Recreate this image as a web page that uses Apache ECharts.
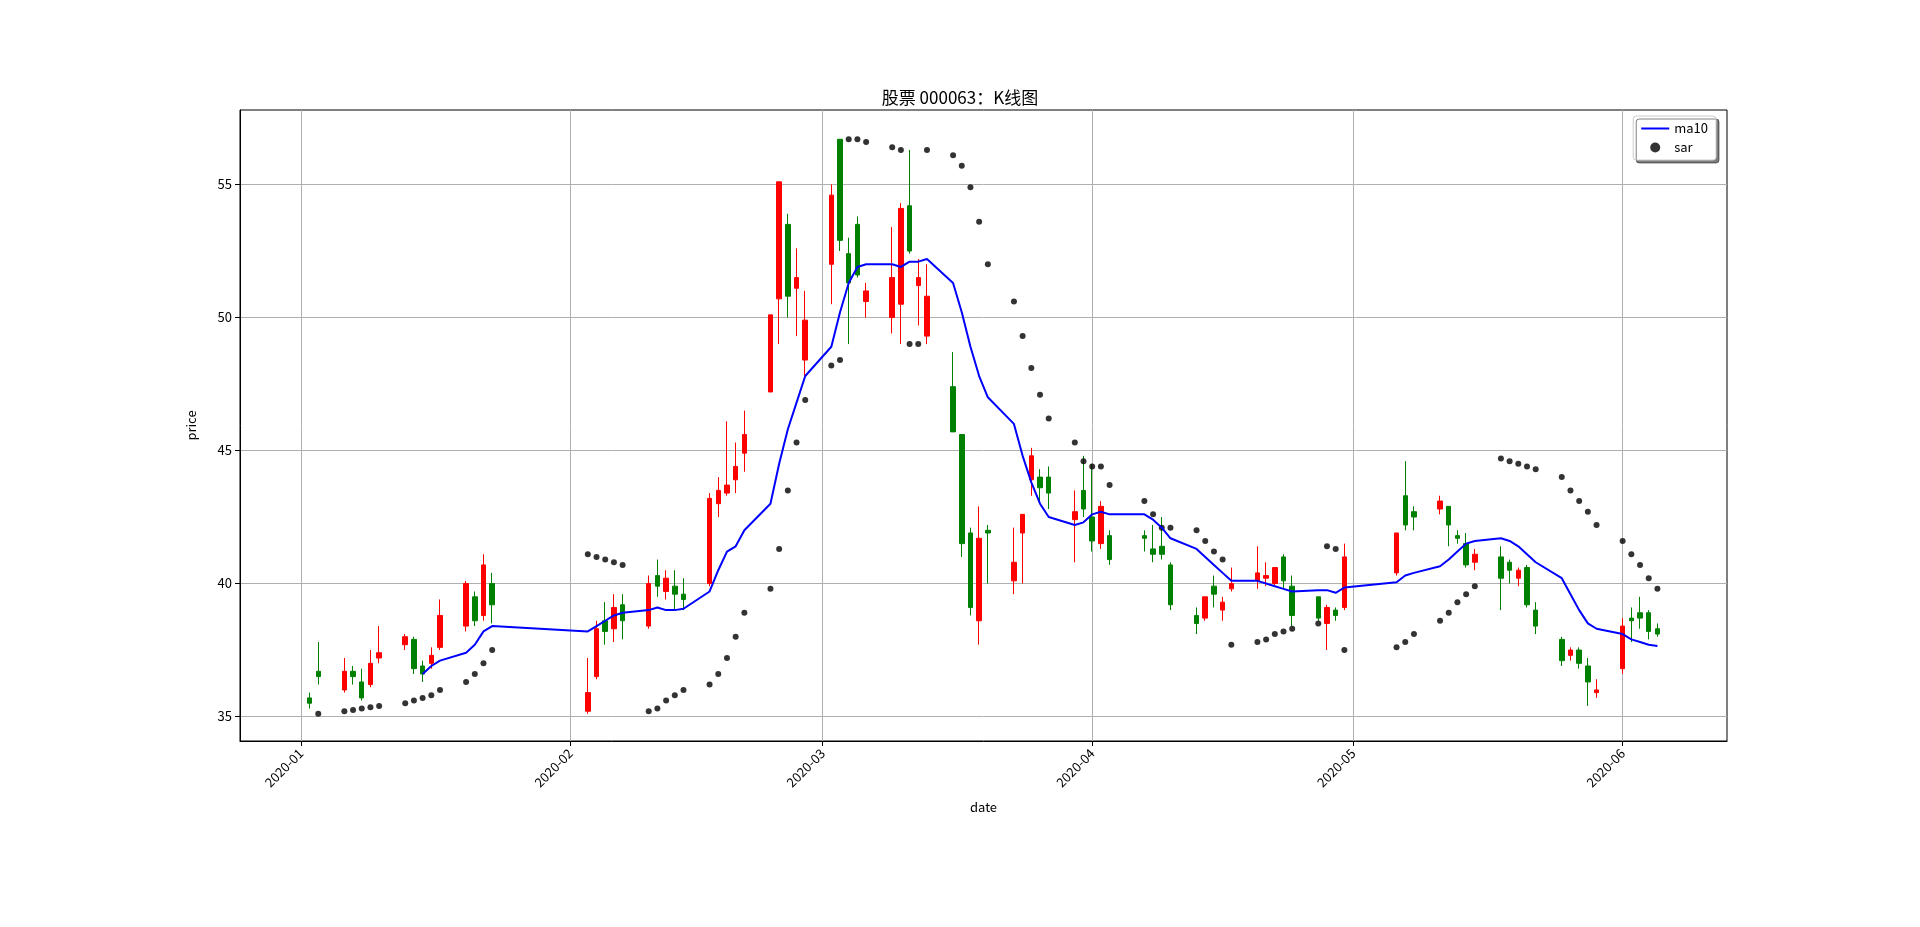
<!DOCTYPE html>
<html><head><meta charset="utf-8">
<script src="https://cdn.jsdelivr.net/npm/echarts@6/dist/echarts.min.js"></script>
<style>html,body{margin:0;padding:0;background:#fff}#c{width:1920px;height:927px}</style>
</head><body><div id="c"></div>
<script>
const dates = ["2020-01-02","2020-01-03","2020-01-06","2020-01-07","2020-01-08","2020-01-09","2020-01-10","2020-01-13","2020-01-14","2020-01-15","2020-01-16","2020-01-17","2020-01-20","2020-01-21","2020-01-22","2020-01-23",
"2020-02-03","2020-02-04","2020-02-05","2020-02-06","2020-02-07","2020-02-10","2020-02-11","2020-02-12","2020-02-13","2020-02-14","2020-02-17","2020-02-18","2020-02-19","2020-02-20","2020-02-21","2020-02-24","2020-02-25","2020-02-26","2020-02-27","2020-02-28",
"2020-03-02","2020-03-03","2020-03-04","2020-03-05","2020-03-06","2020-03-09","2020-03-10","2020-03-11","2020-03-12","2020-03-13","2020-03-16","2020-03-17","2020-03-18","2020-03-19","2020-03-20","2020-03-23","2020-03-24","2020-03-25","2020-03-26","2020-03-27","2020-03-30","2020-03-31",
"2020-04-01","2020-04-02","2020-04-03","2020-04-07","2020-04-08","2020-04-09","2020-04-10","2020-04-13","2020-04-14","2020-04-15","2020-04-16","2020-04-17","2020-04-20","2020-04-21","2020-04-22","2020-04-23","2020-04-24","2020-04-27","2020-04-28","2020-04-29","2020-04-30",
"2020-05-06","2020-05-07","2020-05-08","2020-05-11","2020-05-12","2020-05-13","2020-05-14","2020-05-15","2020-05-18","2020-05-19","2020-05-20","2020-05-21","2020-05-22","2020-05-25","2020-05-26","2020-05-27","2020-05-28","2020-05-29",
"2020-06-01","2020-06-02","2020-06-03","2020-06-04","2020-06-05"];
const open  = [35.7,36.7,36.0,36.7,36.3,36.2,37.2,37.7,37.9,36.9,37.0,37.6,38.4,39.5,38.8,40.0,
35.2,36.5,38.6,38.3,39.2,38.4,40.3,39.7,39.9,39.6,40.0,43.0,43.4,43.9,44.9,47.2,50.7,53.5,51.1,48.4,
52.0,56.7,52.4,53.5,50.6,50.0,50.5,54.2,51.2,49.3,47.4,45.6,41.9,38.6,42.0,40.1,41.9,43.9,44.0,44.0,42.4,43.5,
42.5,41.5,41.8,41.8,41.3,41.4,40.7,38.8,38.7,39.9,39.0,39.8,40.1,40.2,40.0,41.0,39.9,39.5,38.5,39.0,39.1,
40.4,43.3,42.7,42.8,42.9,41.8,41.5,40.8,41.0,40.8,40.2,40.6,39.0,37.9,37.3,37.5,36.9,35.9,
36.8,38.7,38.9,38.9,38.3];
const close = [35.5,36.5,36.7,36.5,35.7,37.0,37.4,38.0,36.8,36.6,37.3,38.8,40.0,38.6,40.7,39.2,
35.9,38.3,38.2,39.1,38.6,40.0,39.9,40.2,39.6,39.4,43.2,43.5,43.7,44.4,45.6,50.1,55.1,50.8,51.5,49.9,
54.6,52.9,51.3,51.6,51.0,51.5,54.1,52.5,51.5,50.8,45.7,41.5,39.1,41.7,41.9,40.8,42.6,44.8,43.6,43.4,42.7,42.8,
41.6,42.9,40.9,41.7,41.1,41.1,39.2,38.5,39.5,39.6,39.3,40.0,40.4,40.3,40.6,40.1,38.8,38.7,39.1,38.8,41.0,
41.9,42.2,42.5,43.1,42.2,41.7,40.7,41.1,40.2,40.5,40.5,39.2,38.4,37.1,37.5,37.0,36.3,36.0,
38.4,38.6,38.7,38.2,38.1];
const low   = [35.3,36.2,35.9,36.2,35.6,36.1,37.0,37.5,36.6,36.3,36.8,37.5,38.2,38.4,38.6,38.5,
35.1,36.4,37.7,37.8,37.9,38.3,39.5,39.4,39.0,39.0,39.9,42.5,43.3,43.4,44.2,47.2,49.0,50.0,49.3,47.8,
50.5,52.5,49.0,51.5,50.0,49.4,49.0,52.4,49.7,49.0,45.7,41.0,38.8,37.7,40.0,39.6,40.0,43.3,43.0,42.8,40.8,42.5,
41.2,41.3,40.7,41.2,40.8,40.9,39.0,38.1,38.6,39.1,38.6,39.7,39.8,39.9,39.9,39.8,38.4,38.6,37.5,38.6,39.0,
40.3,42.0,42.0,42.6,41.4,41.5,40.6,40.5,39.0,40.0,39.9,39.1,38.1,36.9,37.1,36.8,35.4,35.7,
36.6,37.8,38.3,37.9,38.0];
const high  = [35.9,37.8,37.2,36.9,36.8,37.5,38.4,38.1,38.0,37.1,37.6,39.4,40.1,39.7,41.1,40.4,
37.2,38.6,39.3,39.6,39.6,40.3,40.9,40.5,40.5,40.2,43.4,44.0,46.1,45.3,46.5,50.1,55.1,53.9,52.6,51.0,
55.0,56.7,53.0,53.8,51.3,53.4,54.3,56.3,52.2,52.0,48.7,45.6,42.1,42.9,42.2,42.1,42.6,45.1,44.3,44.4,43.5,44.8,
44.5,43.1,42.0,42.0,42.2,42.5,40.8,39.1,39.5,40.3,39.5,40.6,41.4,40.8,40.6,41.1,40.3,39.5,39.2,39.1,41.5,
41.9,44.6,42.9,43.3,42.9,42.0,41.9,41.3,41.4,40.9,40.6,40.7,39.3,38.0,37.6,37.6,37.2,36.4,
38.7,39.1,39.5,39.0,38.5];
const ma10 = [null,null,null,null,null,null,null,null,null,36.6,36.9,37.1,37.4,37.7,38.2,38.4,
38.2,38.4,38.6,38.8,38.9,39.0,39.1,39.0,39.0,39.05,39.7,40.5,41.2,41.4,42.0,43.0,44.5,45.8,46.8,47.8,
48.9,50.2,51.3,51.9,52.0,52.0,51.9,52.1,52.1,52.2,51.3,50.2,48.9,47.8,47.0,46.0,44.8,43.8,43.0,42.5,42.2,42.3,
42.6,42.7,42.6,42.6,42.4,42.1,41.7,41.3,41.0,40.7,40.4,40.1,40.1,40.0,39.9,39.8,39.7,39.75,39.75,39.65,39.85,
40.05,40.3,40.4,40.65,40.9,41.2,41.5,41.6,41.7,41.6,41.4,41.1,40.8,40.2,39.6,39.0,38.5,38.3,
38.1,37.9,37.8,37.7,37.65];
const sar = [null,35.1,35.2,35.25,35.3,35.35,35.4,35.5,35.6,35.7,35.8,36.0,36.3,36.6,37.0,37.5,
41.1,41.0,40.9,40.8,40.7,35.2,35.3,35.6,35.8,36.0,36.2,36.6,37.2,38.0,38.9,39.8,41.3,43.5,45.3,46.9,
48.2,48.4,56.7,56.7,56.6,56.4,56.3,49.0,49.0,56.3,56.1,55.7,54.9,53.6,52.0,50.6,49.3,48.1,47.1,46.2,45.3,44.6,
44.4,44.4,43.7,43.1,42.6,42.1,42.1,42.0,41.6,41.2,40.9,37.7,37.8,37.9,38.1,38.2,38.3,38.5,41.4,41.3,37.5,
37.6,37.8,38.1,38.6,38.9,39.3,39.6,39.9,44.7,44.6,44.5,44.4,44.3,44.0,43.5,43.1,42.7,42.2,
41.6,41.1,40.7,40.2,39.8];
const monthTicks = ["2020-01-01","2020-02-01","2020-03-01","2020-04-01","2020-05-01","2020-06-01"];
const yTicks = [35,40,45,50,55];

const ts = s => new Date(s + "T00:00:00Z").getTime();
const kData = dates.map((d,i)=>[ts(d),open[i],close[i],low[i],high[i]]);
const maData = dates.map((d,i)=>[ts(d),ma10[i]]);
const sarData = dates.map((d,i)=>[ts(d),sar[i]]).filter(p=>p[1]!==null);
const F = "'Noto Sans CJK SC', 'DejaVu Sans', sans-serif";
const tickTs = monthTicks.map(ts);

const chart = echarts.init(document.getElementById('c'));
chart.setOption({
  animation:false,
  textStyle:{fontFamily:F},
  title:{text:'股票 000063：K线图',left:'center',top:84,textStyle:{fontSize:17,fontWeight:'normal',color:'#000',fontFamily:F}},
  legend:{right:204,top:116,orient:'vertical',itemGap:6,backgroundColor:'#fff',borderColor:'#ccc',borderWidth:1,borderRadius:3,
    padding:[6,8,6,8],shadowColor:'rgba(0,0,0,0.5)',shadowOffsetX:3,shadowOffsetY:3,shadowBlur:0,
    textStyle:{fontSize:13,color:'#000',fontFamily:F},itemWidth:28,itemHeight:10,
    data:[{name:'ma10',icon:'path://M0,5L28,5L28,7L0,7Z'},{name:'sar',icon:'circle'}]},
  grid:{left:240,right:193,top:110,bottom:186,show:true,borderColor:'#000',borderWidth:1},
  xAxis:{type:'value',min:ts("2019-12-25"),max:ts("2020-06-13"),scale:true,
    name:'date',nameLocation:'middle',nameGap:60,nameTextStyle:{fontSize:13,color:'#000'},
    axisLine:{onZero:false,lineStyle:{color:'#000'}},
    axisTick:{show:true,customValues:tickTs,lineStyle:{color:'#000'},length:5},
    axisLabel:{customValues:tickTs,rotate:45,fontSize:13,color:'#000',margin:10,
      formatter:v=>{const d=new Date(v);return d.getUTCFullYear()+'-'+String(d.getUTCMonth()+1).padStart(2,'0');}},
    splitLine:{show:true,lineStyle:{color:'#b0b0b0',width:1}}},
  yAxis:{type:'value',min:34.08,max:57.8,
    name:'price',nameLocation:'middle',nameGap:42,nameTextStyle:{fontSize:13,color:'#000'},
    axisLine:{show:true,onZero:false,lineStyle:{color:'#000'}},
    axisTick:{show:true,customValues:yTicks,lineStyle:{color:'#000'},length:5},
    axisLabel:{customValues:yTicks,fontSize:13,color:'#000'},
    splitLine:{show:true,lineStyle:{color:'#b0b0b0',width:1}}},
  series:[
    {type:'candlestick',name:'k',data:kData,barWidth:5,encode:{x:0,y:[1,2,3,4]},
     itemStyle:{color:'#ff0000',color0:'#008000',borderColor:'#ff0000',borderColor0:'#008000',borderWidth:1}},
    {type:'line',name:'ma10',data:maData,showSymbol:false,symbol:'none',connectNulls:true,lineStyle:{color:'#0000ff',width:2},itemStyle:{color:'#0000ff'}},
    {type:'scatter',name:'sar',data:sarData,symbolSize:6,itemStyle:{color:'#000'}}
  ]
});
</script></body></html>
